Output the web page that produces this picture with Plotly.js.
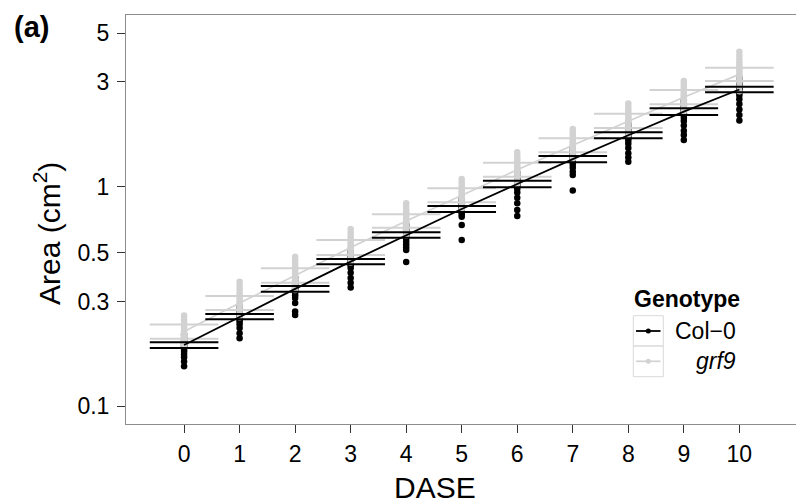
<!DOCTYPE html>
<html>
<head>
<meta charset="utf-8">
<script src="https://cdn.plot.ly/plotly-3.0.1.min.js"></script>
<style>html,body{margin:0;padding:0;background:#fff;}#chart{width:796px;height:503px;}</style>
</head>
<body>
<div id="chart"></div>
<script>
// ---- data ----
const dase = [0, 1, 2, 3, 4, 5, 6, 7, 8, 9, 10];
const xTickVals = [0, 1, 2, 3, 4, 5, 6, 7, 8, 9, 10];
const yTickVals = [0.1, 0.3, 0.5, 1, 3, 5];
const yTickText = ["0.1", "0.3", "0.5", "1", "3", "5"];

const col0Mean  = [0.190, 0.256, 0.3425, 0.4555, 0.6025, 0.7915, 1.029, 1.335, 1.715, 2.197, 2.772];
const col0Upper = [0.1955, 0.263, 0.353, 0.4685, 0.620, 0.8167, 1.065, 1.380, 1.769, 2.276, 2.855];
const col0Lower = [0.184, 0.249, 0.3324, 0.443, 0.5857, 0.767, 0.994, 1.292, 1.663, 2.122, 2.692];

const grf9Mean  = [0.219, 0.2953, 0.394, 0.5285, 0.698, 0.9135, 1.195, 1.544, 1.995, 2.558, 3.25];
const grf9Upper = [0.2356, 0.3177, 0.4248, 0.5718, 0.7484, 0.983, 1.286, 1.662, 2.151, 2.757, 3.485];
const grf9Lower = [0.203, 0.2744, 0.3653, 0.4884, 0.6505, 0.849, 1.111, 1.434, 1.851, 2.374, 3.030];

const col0Points = [
  [0.212, 0.205, 0.200, 0.196, 0.193, 0.190, 0.188, 0.185, 0.181, 0.177, 0.172, 0.167, 0.160, 0.152],
  [0.285, 0.276, 0.270, 0.265, 0.261, 0.258, 0.255, 0.252, 0.248, 0.243, 0.236, 0.227, 0.215, 0.204],
  [0.385, 0.372, 0.362, 0.355, 0.349, 0.344, 0.340, 0.335, 0.328, 0.320, 0.311, 0.295, 0.270, 0.260],
  [0.510, 0.496, 0.484, 0.474, 0.466, 0.459, 0.453, 0.446, 0.438, 0.426, 0.405, 0.384, 0.365, 0.347],
  [0.675, 0.655, 0.640, 0.628, 0.618, 0.609, 0.600, 0.590, 0.578, 0.562, 0.545, 0.530, 0.515, 0.454],
  [0.890, 0.865, 0.845, 0.830, 0.815, 0.803, 0.792, 0.782, 0.772, 0.760, 0.745, 0.730, 0.669, 0.572],
  [1.160, 1.120, 1.095, 1.075, 1.058, 1.043, 1.030, 1.017, 1.000, 0.975, 0.940, 0.890, 0.840, 0.783, 0.735],
  [1.500, 1.450, 1.420, 1.390, 1.370, 1.350, 1.330, 1.310, 1.290, 1.260, 1.220, 1.170, 1.130, 0.960],
  [1.930, 1.870, 1.820, 1.790, 1.760, 1.730, 1.710, 1.690, 1.660, 1.620, 1.570, 1.500, 1.420, 1.360, 1.300],
  [2.470, 2.400, 2.340, 2.290, 2.250, 2.220, 2.190, 2.160, 2.120, 2.060, 1.990, 1.900, 1.800, 1.720, 1.632],
  [3.120, 3.020, 2.950, 2.890, 2.840, 2.800, 2.770, 2.730, 2.680, 2.600, 2.500, 2.380, 2.250, 2.120, 2.000]
];

const grf9Points = [
  [0.259, 0.252, 0.245, 0.238, 0.232, 0.227, 0.222, 0.218, 0.214, 0.210, 0.205, 0.200, 0.195, 0.190],
  [0.369, 0.355, 0.342, 0.330, 0.320, 0.311, 0.303, 0.296, 0.290, 0.284, 0.277, 0.270, 0.262, 0.254],
  [0.480, 0.462, 0.447, 0.434, 0.423, 0.413, 0.404, 0.396, 0.388, 0.380, 0.371, 0.361, 0.350, 0.338],
  [0.641, 0.618, 0.598, 0.581, 0.566, 0.553, 0.541, 0.530, 0.520, 0.510, 0.498, 0.485, 0.470, 0.452],
  [0.840, 0.810, 0.785, 0.764, 0.746, 0.730, 0.716, 0.702, 0.690, 0.677, 0.662, 0.645, 0.625, 0.600],
  [1.084, 1.050, 1.020, 0.995, 0.973, 0.954, 0.937, 0.920, 0.904, 0.888, 0.870, 0.848, 0.822, 0.790],
  [1.434, 1.385, 1.345, 1.310, 1.280, 1.253, 1.228, 1.205, 1.183, 1.160, 1.135, 1.105, 1.070, 1.030],
  [1.832, 1.775, 1.728, 1.688, 1.652, 1.620, 1.591, 1.563, 1.536, 1.508, 1.477, 1.440, 1.395, 1.340],
  [2.393, 2.310, 2.240, 2.185, 2.137, 2.095, 2.057, 2.020, 1.985, 1.948, 1.905, 1.855, 1.795, 1.720],
  [3.030, 2.940, 2.860, 2.790, 2.730, 2.680, 2.630, 2.590, 2.550, 2.500, 2.440, 2.370, 2.290, 2.200],
  [4.120, 3.950, 3.800, 3.670, 3.560, 3.460, 3.380, 3.300, 3.230, 3.160, 3.080, 2.980, 2.860, 2.720]
];

// ---- styling ----
const BLACK = '#000000';
const GREY = '#d2d2d2';
const FONT = 'Liberation Sans, Arial, Helvetica, sans-serif';

function flatX(points) { return points.flatMap((col, i) => col.map(() => dase[i])); }
function flatY(points) { return points.flat(); }

const traces = [
  { x: flatX(col0Points), y: flatY(col0Points), mode: 'markers', type: 'scatter',
    marker: { color: BLACK, size: 6.5 }, hoverinfo: 'skip', showlegend: false },
  { x: flatX(grf9Points), y: flatY(grf9Points), mode: 'markers', type: 'scatter',
    marker: { color: GREY, size: 6.5 }, hoverinfo: 'skip', showlegend: false },
  { x: dase, y: grf9Mean, mode: 'lines', type: 'scatter',
    line: { color: GREY, width: 1.7 }, hoverinfo: 'skip', showlegend: false },
  { x: dase.concat(dase), y: grf9Upper.concat(grf9Lower), mode: 'markers', type: 'scatter',
    marker: { symbol: 'line-ew', size: 49, color: GREY, line: { color: GREY, width: 2 } },
    hoverinfo: 'skip', showlegend: false },
  { x: dase, y: col0Mean, mode: 'lines', type: 'scatter',
    line: { color: BLACK, width: 1.8 }, hoverinfo: 'skip', showlegend: false },
  { x: dase.concat(dase), y: col0Upper.concat(col0Lower), mode: 'markers', type: 'scatter',
    marker: { symbol: 'line-ew', size: 49, color: BLACK, line: { color: BLACK, width: 2 } },
    hoverinfo: 'skip', showlegend: false }
];

// plot area geometry (pixels)
const W = 796, H = 503, ML = 126, MR = 0, MT = 15, MB = 79;
const PW = W - ML - MR, PH = H - MT - MB;
const px = v => (v - ML) / PW;
const py = v => (H - MB - v) / PH;

const shapes = [
  { type: 'rect', xref: 'paper', yref: 'paper', x0: px(633.3), x1: px(663.3), y0: py(346), y1: py(315.7),
    line: { color: '#d9d9d9', width: 1 }, fillcolor: 'rgba(0,0,0,0)' },
  { type: 'rect', xref: 'paper', yref: 'paper', x0: px(633.3), x1: px(663.3), y0: py(376.7), y1: py(346),
    line: { color: '#d9d9d9', width: 1 }, fillcolor: 'rgba(0,0,0,0)' },
  { type: 'line', xref: 'paper', yref: 'paper', x0: px(636), x1: px(660.5), y0: py(331), y1: py(331),
    line: { color: BLACK, width: 1.8 } },
  { type: 'line', xref: 'paper', yref: 'paper', x0: px(636), x1: px(660.5), y0: py(361.3), y1: py(361.3),
    line: { color: GREY, width: 1.7 } },
  { type: 'circle', xref: 'paper', yref: 'paper', x0: px(645.8), x1: px(650.8), y0: py(333.5), y1: py(328.5),
    line: { width: 0 }, fillcolor: BLACK },
  { type: 'circle', xref: 'paper', yref: 'paper', x0: px(645.8), x1: px(650.8), y0: py(363.8), y1: py(358.8),
    line: { width: 0 }, fillcolor: GREY }
];

const annotations = [
  { text: '<b>(a)</b>', xref: 'paper', yref: 'paper', x: px(31.5), y: py(27), xanchor: 'center', yanchor: 'middle',
    showarrow: false, font: { family: FONT, size: 29, color: '#000' } },
  { text: 'Area (cm<sup>2</sup>)', xref: 'paper', yref: 'paper', x: px(47), y: py(234), xanchor: 'center', yanchor: 'middle',
    textangle: -90, showarrow: false, font: { family: FONT, size: 30, color: '#000' } },
  { text: 'DASE', xref: 'paper', yref: 'paper', x: px(434.7), y: py(487), xanchor: 'center', yanchor: 'middle',
    showarrow: false, font: { family: FONT, size: 30, color: '#000' } },
  { text: '<b>Genotype</b>', xref: 'paper', yref: 'paper', x: px(632), y: py(299), xanchor: 'left', yanchor: 'middle',
    showarrow: false, font: { family: FONT, size: 23, color: '#000' } },
  { text: 'Col\u22120', xref: 'paper', yref: 'paper', x: px(738), y: py(331), xanchor: 'right', yanchor: 'middle',
    showarrow: false, font: { family: FONT, size: 23, color: '#000' } },
  { text: '<i>grf9</i>', xref: 'paper', yref: 'paper', x: px(738), y: py(361), xanchor: 'right', yanchor: 'middle',
    showarrow: false, font: { family: FONT, size: 23, color: '#000' } }
];

const yTop = (186.7 - MT) / 219.5;
const yBot = -((H - MB) - 186.7) / 219.5;

const layout = {
  width: W, height: H,
  margin: { l: ML, r: MR, t: MT, b: MB, pad: 0 },
  paper_bgcolor: '#ffffff', plot_bgcolor: '#ffffff',
  showlegend: false,
  font: { family: FONT, color: '#000' },
  xaxis: {
    range: [-1.046, 11.02], showgrid: false, zeroline: false,
    showline: true, linecolor: '#8c8c8c', linewidth: 1, mirror: true,
    ticks: 'outside', ticklen: 8, tickwidth: 1, tickcolor: '#333',
    tickmode: 'array', tickvals: xTickVals, ticktext: xTickVals.map(String),
    tickfont: { family: FONT, size: 23, color: '#000' }, ticklabelstandoff: 1
  },
  yaxis: {
    type: 'log', range: [yBot, yTop], showgrid: false, zeroline: false,
    showline: true, linecolor: '#8c8c8c', linewidth: 1,
    ticks: 'outside', ticklen: 8, tickwidth: 1, tickcolor: '#333',
    tickmode: 'array', tickvals: yTickVals, ticktext: yTickText,
    tickfont: { family: FONT, size: 23, color: '#000' }, ticklabelstandoff: 3
  },
  shapes: shapes,
  annotations: annotations
};

Plotly.newPlot('chart', traces, layout, { staticPlot: true, displayModeBar: false });
</script>
</body>
</html>
